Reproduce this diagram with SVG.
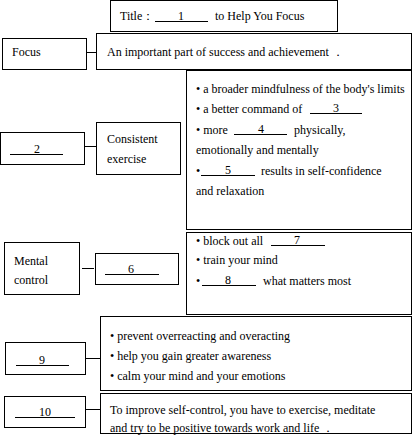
<svg xmlns="http://www.w3.org/2000/svg" width="413" height="443" viewBox="0 0 413 443">
<style>
rect{fill:#fff;stroke:#000;stroke-width:1}
line{stroke:#000;stroke-width:1}
text{font-family:"Liberation Serif","Times New Roman",serif;font-size:12px;fill:#000}
.m{text-anchor:middle}
</style>
<rect x="0" y="0" width="413" height="443" style="stroke:none"/>
<g id="title">
<rect x="110.5" y="0.5" width="227" height="31"/>
<text x="120" y="20">Title：</text>
<line x1="155" y1="21.5" x2="208" y2="21.5"/>
<text class="m" x="181" y="20">1</text>
<text x="215" y="20">to Help You Focus</text>
</g>
<g id="focus">
<rect x="2.5" y="38.5" width="84" height="31"/>
<text x="12" y="56">Focus</text>
</g>
<g id="focus-desc">
<rect x="96.5" y="33.5" width="315" height="36"/>
<text x="107" y="56">An important part of success and achievement ．</text>
</g>
<g id="blank2">
<rect x="0.5" y="132.5" width="84" height="32"/>
<line x1="10" y1="154.5" x2="63" y2="154.5"/>
<text class="m" x="37" y="153">2</text>
</g>
<g id="exercise">
<rect x="96.5" y="122.5" width="84" height="52"/>
<text x="107" y="143">Consistent</text>
<text x="107" y="163">exercise</text>
</g>
<g id="exercise-desc">
<rect x="186.5" y="70.5" width="225" height="159"/>
<text x="196" y="93">• a broader mindfulness of the body's limits</text>
<text x="196" y="113">• a better command of</text>
<line x1="310" y1="113.5" x2="362" y2="113.5"/>
<text class="m" x="336" y="112">3</text>
<text x="196" y="134">• more</text>
<line x1="234" y1="134.5" x2="287" y2="134.5"/>
<text class="m" x="261" y="133">4</text>
<text x="294" y="134">physically,</text>
<text x="196" y="154">emotionally and mentally</text>
<text x="196" y="175">•</text>
<line x1="201" y1="175.5" x2="255" y2="175.5"/>
<text class="m" x="228" y="174">5</text>
<text x="261" y="175">results in self-confidence</text>
<text x="196" y="195">and relaxation</text>
</g>
<g id="mental">
<rect x="4.5" y="242.5" width="75" height="52"/>
<text x="14" y="265">Mental</text>
<text x="14" y="284">control</text>
</g>
<g id="blank6">
<rect x="95.5" y="253.5" width="83" height="31"/>
<line x1="105" y1="274.5" x2="159" y2="274.5"/>
<text class="m" x="131" y="273">6</text>
</g>
<g id="mental-desc">
<rect x="186.5" y="232.5" width="225" height="82"/>
<text x="196" y="245">• block out all</text>
<line x1="271" y1="245.5" x2="325" y2="245.5"/>
<text class="m" x="297" y="244">7</text>
<text x="196" y="264">• train your mind</text>
<text x="196" y="285">•</text>
<line x1="202" y1="285.5" x2="256" y2="285.5"/>
<text class="m" x="228" y="284">8</text>
<text x="263" y="285">what matters most</text>
</g>
<g id="blank9">
<rect x="5.5" y="342.5" width="80" height="32"/>
<line x1="16" y1="365.5" x2="69" y2="365.5"/>
<text class="m" x="42" y="364">9</text>
</g>
<g id="blank9-desc">
<rect x="100.5" y="316.5" width="311" height="74"/>
<text x="110" y="340">• prevent overreacting and overacting</text>
<text x="110" y="360">• help you gain greater awareness</text>
<text x="110" y="380">• calm your mind and your emotions</text>
</g>
<g id="blank10">
<rect x="4.5" y="396.5" width="81" height="31"/>
<line x1="15" y1="417.5" x2="75" y2="417.5"/>
<text class="m" x="45" y="416">10</text>
</g>
<g id="blank10-desc">
<rect x="100.5" y="393.5" width="311" height="40"/>
<text x="110" y="414">To improve self-control, you have to exercise, meditate</text>
<text x="110" y="432">and try to be positive towards work and life ．</text>
</g>
<g id="connectors">
<line x1="86" y1="52.5" x2="96" y2="52.5"/>
<line x1="84" y1="146.5" x2="96" y2="146.5"/>
<line x1="82" y1="268.5" x2="94" y2="268.5"/>
<line x1="85" y1="358.5" x2="100" y2="358.5"/>
<line x1="85" y1="409.5" x2="100" y2="409.5"/>
</g>
</svg>
